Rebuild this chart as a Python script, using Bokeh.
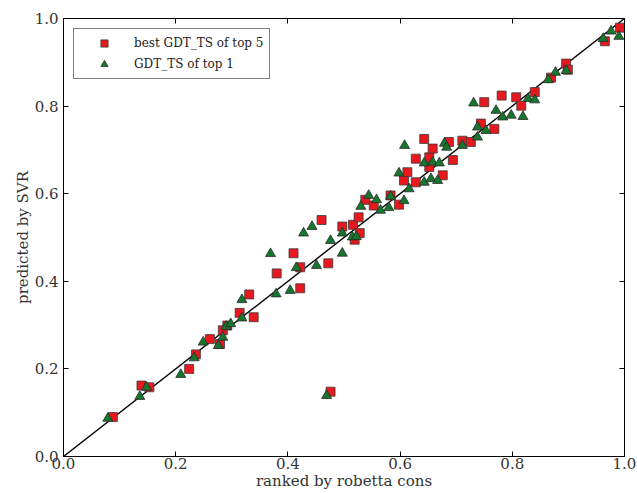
from bokeh.plotting import figure
from bokeh.models import (FixedTicker, LinearAxis, Legend, LegendItem, Range1d)
from bokeh.embed import file_html
from bokeh.resources import INLINE

# ---- data ----
red_x = [0.088, 0.139, 0.153, 0.224, 0.236, 0.261, 0.279, 0.284, 0.292, 0.314,
         0.331, 0.339, 0.380, 0.410, 0.422, 0.422, 0.460, 0.472, 0.476, 0.497,
         0.516, 0.519, 0.526, 0.528, 0.538, 0.553, 0.583, 0.598, 0.607, 0.613,
         0.628, 0.628, 0.643, 0.652, 0.652, 0.658, 0.676, 0.687, 0.694, 0.711,
         0.726, 0.744, 0.750, 0.768, 0.781, 0.807, 0.816, 0.840, 0.869, 0.896,
         0.899, 0.965, 0.992]
red_y = [0.090, 0.162, 0.158, 0.200, 0.233, 0.268, 0.257, 0.288, 0.299, 0.328,
         0.370, 0.318, 0.418, 0.464, 0.432, 0.384, 0.540, 0.441, 0.148, 0.525,
         0.529, 0.495, 0.546, 0.510, 0.586, 0.573, 0.596, 0.575, 0.630, 0.649,
         0.680, 0.626, 0.725, 0.683, 0.661, 0.703, 0.642, 0.718, 0.677, 0.721,
         0.718, 0.760, 0.809, 0.748, 0.824, 0.820, 0.801, 0.832, 0.865, 0.897,
         0.883, 0.948, 0.979]

green_x = [0.079, 0.136, 0.148, 0.209, 0.233, 0.249, 0.276, 0.284, 0.290, 0.298,
           0.318, 0.318, 0.369, 0.379, 0.404, 0.415, 0.428, 0.443, 0.451, 0.469,
           0.476, 0.497, 0.497, 0.515, 0.522, 0.530, 0.544, 0.558, 0.565, 0.580,
           0.583, 0.598, 0.607, 0.608, 0.616, 0.643, 0.643, 0.655, 0.658, 0.667,
           0.670, 0.679, 0.683, 0.711, 0.731, 0.738, 0.738, 0.753, 0.771, 0.783,
           0.798, 0.819, 0.828, 0.840, 0.864, 0.877, 0.896, 0.962, 0.976, 0.990]
green_y = [0.087, 0.137, 0.158, 0.187, 0.225, 0.261, 0.253, 0.272, 0.297, 0.303,
           0.316, 0.358, 0.463, 0.371, 0.379, 0.431, 0.510, 0.525, 0.436, 0.139,
           0.493, 0.464, 0.510, 0.501, 0.502, 0.571, 0.596, 0.586, 0.562, 0.568,
           0.594, 0.647, 0.584, 0.710, 0.611, 0.670, 0.626, 0.634, 0.672, 0.630,
           0.670, 0.715, 0.706, 0.710, 0.807, 0.752, 0.729, 0.744, 0.790, 0.775,
           0.779, 0.776, 0.817, 0.814, 0.860, 0.877, 0.881, 0.954, 0.971, 0.959]

diag_x = [0.0, 1.0]
diag_y = [0.0, 1.0]

tick_values = [0.0, 0.2, 0.4, 0.6, 0.8, 1.0]
tick_labels = ["0.0", "0.2", "0.4", "0.6", "0.8", "1.0"]

series_names = ["best GDT_TS of top 5", "GDT_TS of top 1"]
x_label = "ranked by robetta cons"
y_label = "predicted by SVR"

FONT = "DejaVu Serif"

p = figure(width=637, height=493, output_backend="svg", toolbar_location=None,
           x_range=Range1d(0, 1), y_range=Range1d(0, 1),
           min_border_left=63, min_border_right=13, min_border_top=18,
           min_border_bottom=37)
p.background_fill_color = "white"
p.border_fill_color = "white"
p.outline_line_color = "black"
p.outline_line_width = 1
p.xgrid.visible = False
p.ygrid.visible = False

overrides = {v: s for v, s in zip(tick_values, tick_labels)}
for ax in (p.xaxis[0], p.yaxis[0]):
    ax.ticker = FixedTicker(ticks=tick_values)
    ax.major_label_overrides = overrides
    ax.major_tick_in = 5
    ax.major_tick_out = 0
    ax.minor_tick_line_color = None
    ax.axis_line_color = "black"
    ax.major_tick_line_color = "black"
    ax.major_label_text_font = FONT
    ax.major_label_text_font_size = "15px"
    ax.major_label_text_color = "#333333"
    ax.axis_label_text_font = FONT
    ax.axis_label_text_font_size = "15px"
    ax.axis_label_text_font_style = "normal"
    ax.axis_label_text_color = "#333333"
p.xaxis[0].axis_label = x_label
p.yaxis[0].axis_label = y_label
p.xaxis[0].major_label_standoff = 1
p.xaxis[0].axis_label_standoff = 0
p.yaxis[0].major_label_standoff = 5
p.yaxis[0].axis_label_standoff = 0

for loc in ("above", "right"):
    ax = LinearAxis(ticker=FixedTicker(ticks=tick_values))
    ax.major_tick_in = 5
    ax.major_tick_out = 0
    ax.minor_tick_line_color = None
    ax.major_label_text_font_size = "0px"
    ax.major_label_text_color = None
    ax.major_label_standoff = 0
    ax.axis_line_color = "black"
    p.add_layout(ax, loc)

p.line(diag_x, diag_y, line_color="black", line_width=1.4)

r_red = p.scatter(red_x, red_y, marker="square", size=9,
                  fill_color="#e8191e", line_color="#3a3a3a", line_width=0.8)
r_green = p.scatter(green_x, green_y, marker="triangle", size=10,
                    fill_color="#16762e", line_color="#2a2a2a", line_width=0.8)

legend = Legend(items=[LegendItem(label=series_names[0], renderers=[r_red]),
                       LegendItem(label=series_names[1], renderers=[r_green])],
                location="top_left")
legend.margin = 10
legend.padding = 5
legend.spacing = 3
legend.glyph_width = 50
legend.glyph_height = 18
legend.label_height = 18
legend.label_standoff = 5
legend.label_text_font = FONT
legend.label_text_font_size = "12px"
legend.label_text_color = "#222222"
legend.border_line_color = "black"
legend.border_line_width = 1
legend.background_fill_color = "white"
legend.background_fill_alpha = 1
p.add_layout(legend)

open("out.html", "w").write(file_html(p, INLINE))
